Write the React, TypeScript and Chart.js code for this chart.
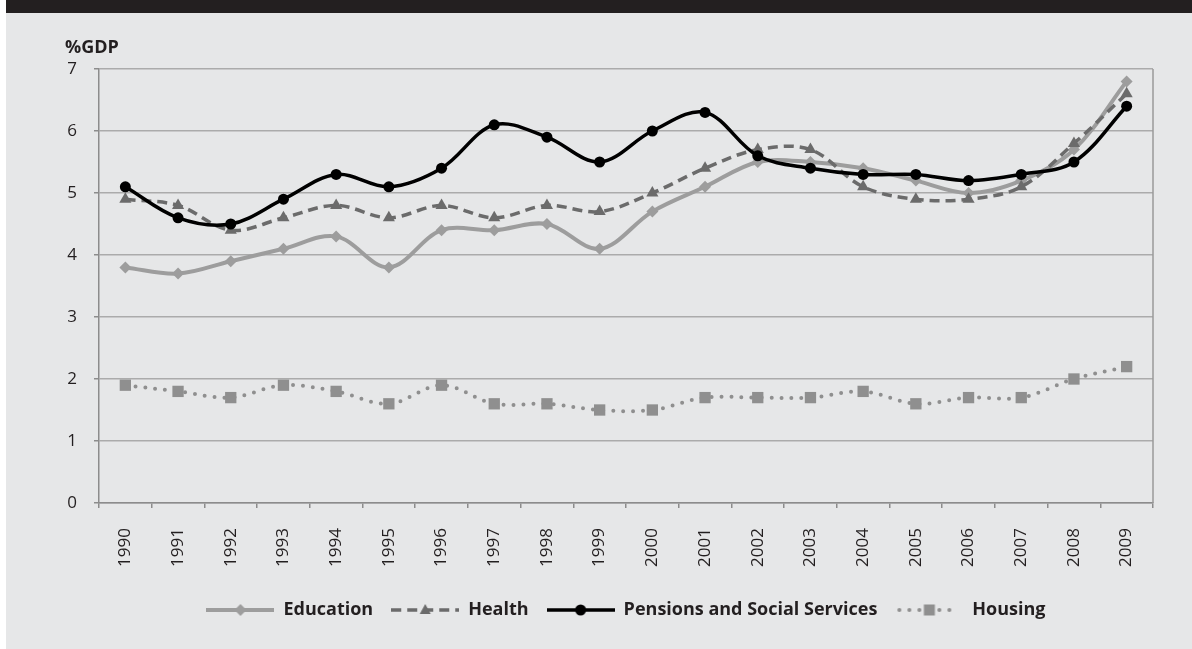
import React, { useEffect, useRef } from "react";
import { Chart, registerables } from "chart.js";

Chart.register(...registerables);

const years = ["1990","1991","1992","1993","1994","1995","1996","1997","1998","1999","2000","2001","2002","2003","2004","2005","2006","2007","2008","2009"];
const education = [3.8,3.7,3.9,4.1,4.3,3.8,4.4,4.4,4.5,4.1,4.7,5.1,5.5,5.5,5.4,5.2,5.0,5.2,5.7,6.8];
const health = [4.9,4.8,4.4,4.6,4.8,4.6,4.8,4.6,4.8,4.7,5.0,5.4,5.7,5.7,5.1,4.9,4.9,5.1,5.8,6.6];
const pensions = [5.1,4.6,4.5,4.9,5.3,5.1,5.4,6.1,5.9,5.5,6.0,6.3,5.6,5.4,5.3,5.3,5.2,5.3,5.5,6.4];
const housing = [1.9,1.8,1.7,1.9,1.8,1.6,1.9,1.6,1.6,1.5,1.5,1.7,1.7,1.7,1.8,1.6,1.7,1.7,2.0,2.2];
const yTicks = [0,1,2,3,4,5,6,7];
const yLabel = "%GDP";

const FONT = "'Open Sans', 'DejaVu Sans', sans-serif";
const TEXT = "#231f20";

type Style = { color: string; width: number; dash: number[]; cap: CanvasLineCap; marker: string; size: number };
const styles: Style[] = [
  { color: "#9d9d9d", width: 4, dash: [], cap: "butt", marker: "diamond", size: 6 },
  { color: "#6b6b6b", width: 3.5, dash: [10, 6], cap: "butt", marker: "triangle", size: 7 },
  { color: "#000000", width: 3.5, dash: [], cap: "butt", marker: "circle", size: 5.5 },
  { color: "#8f8f8f", width: 4, dash: [0, 10], cap: "round", marker: "square", size: 8 },
];

function makeSample(s: Style): HTMLCanvasElement {
  const c = document.createElement("canvas");
  c.width = 68;
  c.height = 18;
  const ctx = c.getContext("2d")!;
  const cy = 9;
  ctx.strokeStyle = s.color;
  ctx.lineWidth = s.width;
  ctx.lineCap = s.cap;
  ctx.setLineDash(s.dash);
  ctx.beginPath();
  ctx.moveTo(s.cap === "round" ? 4 : 0, cy);
  ctx.lineTo(s.cap === "round" ? 64 : 68, cy);
  ctx.stroke();
  ctx.setLineDash([]);
  ctx.fillStyle = s.color;
  const cx = 34;
  ctx.beginPath();
  if (s.marker === "circle") {
    ctx.arc(cx, cy, 5.5, 0, Math.PI * 2);
  } else if (s.marker === "diamond") {
    ctx.moveTo(cx - 6, cy); ctx.lineTo(cx, cy - 6); ctx.lineTo(cx + 6, cy); ctx.lineTo(cx, cy + 6); ctx.closePath();
  } else if (s.marker === "triangle") {
    ctx.moveTo(cx, cy - 6); ctx.lineTo(cx + 5.5, cy + 4); ctx.lineTo(cx - 5.5, cy + 4); ctx.closePath();
  } else {
    ctx.rect(cx - 5.5, cy - 5.5, 11, 11);
  }
  ctx.fill();
  return c;
}

const extrasPlugin = {
  id: "extras",
  afterDraw(chart: any) {
    const { ctx, chartArea } = chart;
    ctx.save();
    ctx.strokeStyle = "#9a9a9a";
    ctx.lineWidth = 1.5;
    ctx.beginPath();
    ctx.moveTo(chartArea.right, chartArea.top);
    ctx.lineTo(chartArea.right, chartArea.bottom);
    ctx.stroke();
    ctx.fillStyle = TEXT;
    ctx.font = `bold 18px ${FONT}`;
    ctx.textBaseline = "middle";
    ctx.textAlign = "left";
    ctx.fillText(yLabel, 65, 48);
    ctx.restore();
  },
};

export default function App() {
  const ref = useRef<HTMLCanvasElement>(null);
  useEffect(() => {
    if (!ref.current) return;
    const names = ["Education", "Health", "Pensions and Social Services", "Housing"];
    const series = [education, health, pensions, housing];
    const pointStyles = ["rectRot", "triangle", "circle", "rect"];
    const orders = [2, 1, 0, 3];
    const samples = styles.map(makeSample);
    const chart = new Chart(ref.current, {
      type: "line",
      data: {
        labels: years,
        datasets: series.map((d, i) => ({
          label: names[i],
          data: d,
          order: orders[i],
          borderColor: styles[i].color,
          backgroundColor: styles[i].color,
          borderWidth: styles[i].width,
          borderDash: styles[i].dash,
          borderCapStyle: styles[i].cap,
          tension: 0.35,
          fill: false,
          pointStyle: pointStyles[i],
          pointRadius: styles[i].size,
          pointBorderWidth: 0,
          pointBackgroundColor: styles[i].color,
          pointBorderColor: styles[i].color,
        })),
      },
      options: {
        responsive: false,
        animation: false,
        events: [],
        layout: { padding: { top: 69, left: 0, right: 39, bottom: 20 } },
        plugins: {
          tooltip: { enabled: false },
          legend: {
            position: "bottom",
            fullSize: false,
            labels: {
              usePointStyle: true,
              pointStyleWidth: 68,
              padding: 18,
              color: TEXT,
              font: { family: FONT, size: 18, weight: "bold" },
              generateLabels: () =>
                names.map((n, i) => ({
                  text: n,
                  datasetIndex: i,
                  pointStyle: samples[i],
                  fillStyle: styles[i].color,
                  strokeStyle: styles[i].color,
                  lineWidth: 0,
                  hidden: false,
                  fontColor: TEXT,
                })),
            },
          },
        },
        scales: {
          x: {
            offset: true,
            grid: { display: true, drawOnChartArea: false, drawTicks: true, tickLength: 5, offset: true, color: "#8c8c8c", lineWidth: 1.5 },
            border: { display: true, color: "#8c8c8c", width: 1.5 },
            ticks: { color: TEXT, font: { family: FONT, size: 17 }, minRotation: 90, maxRotation: 90, padding: 20, autoSkip: false },
            afterFit: (s: any) => { s.height = 80; },
          },
          y: {
            min: 0,
            max: 7,
            afterBuildTicks: (s: any) => { s.ticks = yTicks.map((v) => ({ value: v })); },
            grid: { color: "#ababab", lineWidth: 1.5, tickLength: 5, tickColor: "#8c8c8c" },
            border: { display: true, color: "#8c8c8c", width: 1.5 },
            ticks: { color: TEXT, font: { family: FONT, size: 17 }, padding: 17 },
            afterFit: (s: any) => { s.width = 99; },
          },
        },
      },
      plugins: [extrasPlugin],
    } as any);
    return () => chart.destroy();
  }, []);

  return (
    <div style={{ position: "fixed", left: 0, top: 0, width: 1192, height: 649, background: "#ffffff", overflow: "hidden" }}>
      <div style={{ position: "absolute", left: 6, top: 0, right: 0, bottom: 0, background: "#e6e7e8" }} />
      <div style={{ position: "absolute", left: 6, top: 0, right: 0, height: 13, background: "#231f20" }} />
      <canvas ref={ref} width={1192} height={649} style={{ position: "absolute", left: 0, top: 0, width: 1192, height: 649 }} />
    </div>
  );
}
